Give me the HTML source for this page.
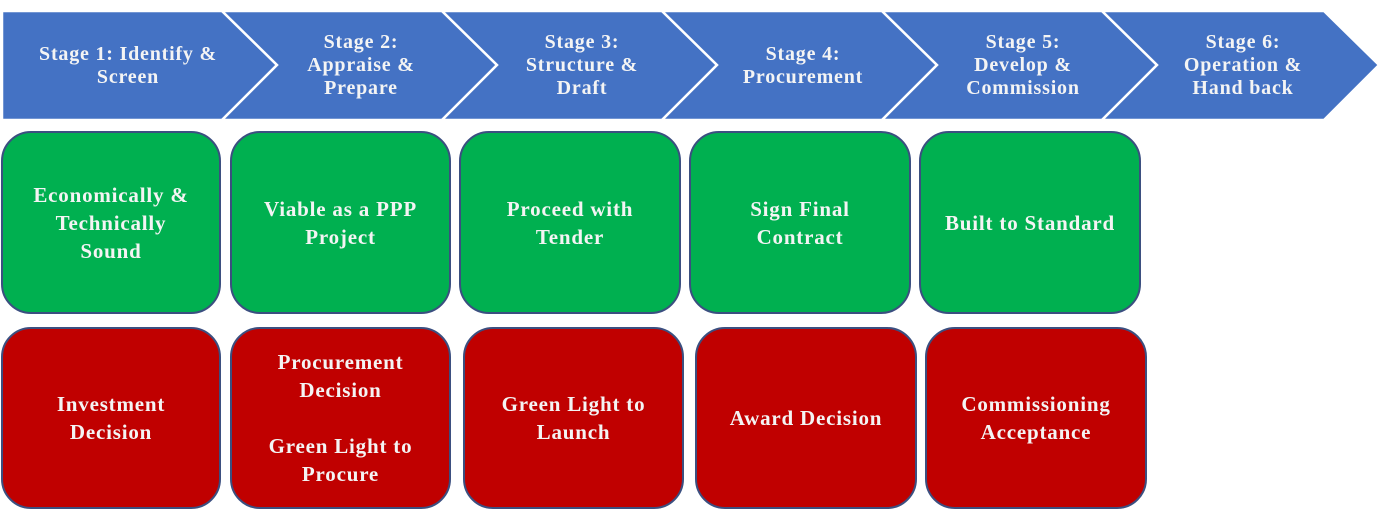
<!DOCTYPE html>
<html><head><meta charset="utf-8"><style>
body{margin:0;width:1383px;height:510px;background:#fff;position:relative;overflow:hidden;font-family:"Liberation Serif",serif;font-weight:bold;}
svg{position:absolute;left:0;top:0}
.t{position:absolute;color:#f4f4f4;text-align:center;display:flex;align-items:center;justify-content:center;}
.s{font-size:20px;line-height:23px;height:109px;top:11px;width:220px;letter-spacing:0.8px}
.b{position:absolute;border:2px solid #3b4f80;border-radius:30px;box-sizing:border-box;color:#f4f4f4;font-size:21px;line-height:28px;letter-spacing:0.8px;text-align:center;display:flex;align-items:center;justify-content:center;padding:0 4px}
.g{background:#00b050;top:131px;height:183px}
.r{background:#c00000;top:327px;height:182px}
</style></head><body>
<svg width="1383" height="130">
<g fill="#4472c4" stroke="#fff" stroke-width="2.5">
<polygon points="2,11 222,11 277,65 222,120 2,120"/>
<polygon points="222,11 442,11 497,65 442,120 222,120 277,65"/>
<polygon points="442,11 662,11 717,65 662,120 442,120 497,65"/>
<polygon points="662,11 882,11 937,65 882,120 662,120 717,65"/>
<polygon points="882,11 1102,11 1157,65 1102,120 882,120 937,65"/>
<polygon points="1102,11 1324,11 1379,65 1324,120 1102,120 1157,65"/>
</g></svg>
<div class="t s" style="left:18px">Stage 1: Identify &amp;<br>Screen</div>
<div class="t s" style="left:251px">Stage 2:<br>Appraise &amp;<br>Prepare</div>
<div class="t s" style="left:472px">Stage 3:<br>Structure &amp;<br>Draft</div>
<div class="t s" style="left:693px">Stage 4:<br>Procurement</div>
<div class="t s" style="left:913px">Stage 5:<br>Develop &amp;<br>Commission</div>
<div class="t s" style="left:1133px">Stage 6:<br>Operation &amp;<br>Hand back</div>

<div class="b g" style="left:1px;width:220px">Economically &amp;<br>Technically<br>Sound</div>
<div class="b g" style="left:230px;width:221px">Viable as a PPP<br>Project</div>
<div class="b g" style="left:459px;width:222px">Proceed with<br>Tender</div>
<div class="b g" style="left:689px;width:222px">Sign Final<br>Contract</div>
<div class="b g" style="left:919px;width:222px">Built to Standard</div>

<div class="b r" style="left:1px;width:220px">Investment<br>Decision</div>
<div class="b r" style="left:230px;width:221px">Procurement<br>Decision<br><br>Green Light to<br>Procure</div>
<div class="b r" style="left:463px;width:221px">Green Light to<br>Launch</div>
<div class="b r" style="left:695px;width:222px">Award Decision</div>
<div class="b r" style="left:925px;width:222px">Commissioning<br>Acceptance</div>
</body></html>
